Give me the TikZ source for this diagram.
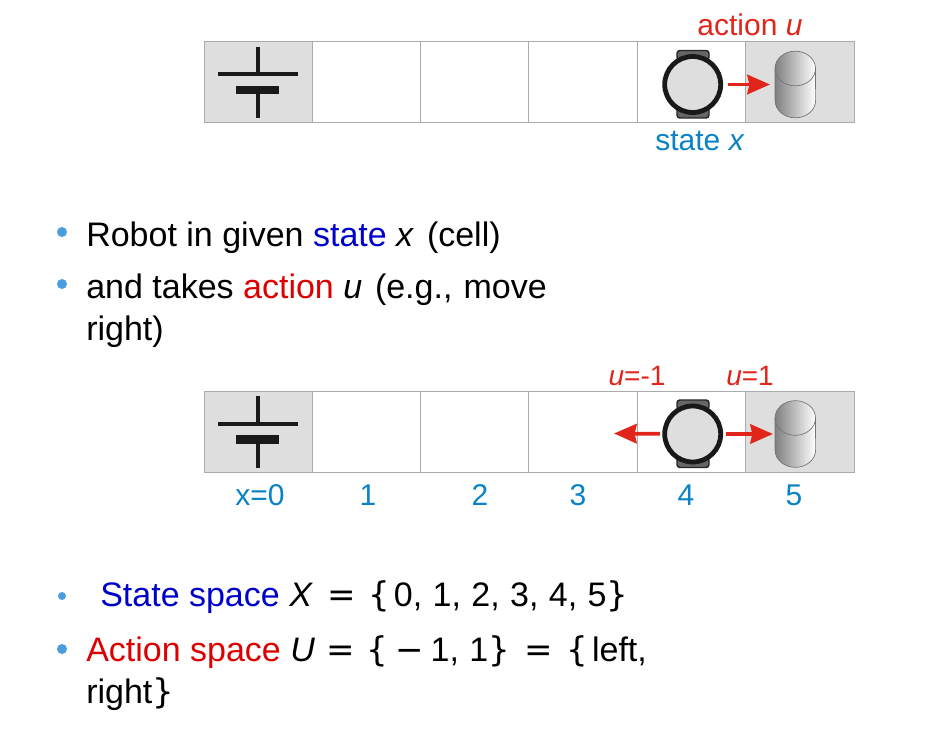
\documentclass[tikz,border=0pt]{standalone}
\usepackage{fontspec}
\setmainfont{Liberation Sans}
\newfontfamily\symfont{DejaVu Sans}
\usetikzlibrary{arrows.meta}
\definecolor{cellgray}{HTML}{DEDEDE}
\definecolor{celledge}{HTML}{ABABAB}
\definecolor{labelblue}{HTML}{0A82C6}
\definecolor{labelred}{HTML}{E1251B}
\definecolor{wordblue}{HTML}{0000CC}
\definecolor{wordred}{HTML}{DC0000}
\definecolor{dotblue}{HTML}{4A9EDD}
\newcommand{\sym}[1]{{\symfont #1}}
\newcommand{\gp}[1]{\hspace{#1pt}}
\tikzset{
	cell/.style={draw=celledge,line width=0.75pt},
	wallbar/.style={line width=3pt,draw=black!90},
	robotbody/.style={circle,draw=black!90,fill=cellgray,line width=3.6pt,minimum size=42pt,inner sep=0pt,outer sep=3.6pt},
	robottab/.style={draw=black!85,fill=black!60,line width=1.1pt,rounded corners=2.2pt},
	canbox/.style={rectangle,minimum width=30.5pt,minimum height=50.5pt,inner sep=0pt,outer sep=1.5pt},
	move/.style={draw=labelred,line width=2.8pt,-{Stealth[length=17pt,width=14.5pt,inset=1.5pt]}},
	lbl/.style={inner sep=0pt,anchor=base,font=\fontsize{22.5}{22.5}\selectfont},
	ulbl/.style={inner sep=0pt,anchor=base,font=\fontsize{21}{21}\selectfont},
	line/.style={inner sep=0pt,anchor=base west,font=\fontsize{25.5}{25.5}\selectfont},
	dot/.style={circle,fill=dotblue,inner sep=0pt,minimum size=#1}
}
\begin{document}
\begin{tikzpicture}[x=0.75pt,y=-0.75pt]
\useasboundingbox (0,0) rectangle (936,734);

% the two strips of cells
\foreach \s/\d in {1/0,2/349.5}
{
	\begin{scope}[shift={(0,\d)}]
	\fill[cellgray] (204,42) rectangle (312,123);
	\fill[cellgray] (745,42) rectangle (854,123);
	\draw[cell] (204,42) rectangle (854,123);
	\foreach \t in {312,420,528,637,745} {
		\draw[cell] (\t,42) -- (\t,123);
	};
	% wall
	\draw[wallbar] (258,47) -- (258,74.5);
	\draw[wallbar] (258,90) -- (258,118);
	\draw[wallbar] (218,74.5) -- (298,74.5);
	\fill[black!90] (236,86) rectangle (279,94);
	% robot
	\draw[robottab] (677,60) -- (677,50.5) -- (709,50.5) -- (709,60) -- cycle;
	\draw[robottab] (677,108) -- (677,118) -- (709,118) -- (709,108) -- cycle;
	\node[robotbody] (robot\s) at (692.7,84.5) {};
	% can
	\node[canbox] (can\s) at (795.3,84.5) {};
	\draw[draw=black!55,line width=0.5pt,left color=black!50,right color=white]
		(775,68.5) arc (180:0:15.2pt and 13pt) -- (815.6,100.5) arc (0:-180:15.2pt and 13pt) -- cycle;
	\draw[draw=black!55,line width=0.5pt] (775,68.5) arc (180:360:15.2pt and 13pt);
	\end{scope}
};

\coordinate (goleft) at (614,433.5);
\draw[move,shorten <=1.5pt,shorten >=2.2pt] (robot1) -- (can1);
\draw[move] (robot2) -- (can2);
\draw[move] (robot2) -- (goleft);

\node[lbl,text=labelred] (actionlbl) at (750,36) {action \textit{u}};
\node[lbl,text=labelblue] (statelbl) at (700,151) {state \textit{x}};
\node[ulbl,text=labelred] (uminus) at (637,386) {\textit{u}=-1};
\node[ulbl,text=labelred] (uplus) at (750,386) {\textit{u}=1};

\foreach \s/\t/\l in {0/260/x=0,1/368/1,2/480/2,3/578/3,4/686/4,5/794/5} {
	\node[lbl,text=labelblue] (num\s) at (\t,505) {\l};
};

\node[dot=7.5pt] (bul1) at (62,232) {};
\node[dot=7.5pt] (bul2) at (62,284) {};
\node[dot=6pt] (bul3) at (62,596) {};
\node[dot=7.5pt] (bul4) at (62,649) {};

\node[line] (txt1) at (86,247) {Robot in given \textcolor{wordblue}{state} \textit{x} \gp{2.5}(cell)};
\node[line] (txt2) at (86,299) {and takes \textcolor{wordred}{action} \textit{u} \gp{2.5}(e.g.,\gp{1.3} move};
\node[line] (txt3) at (86,341) {right)};
\node[line] (txt4) at (100,606) {\textcolor{wordblue}{State space} \textit{X}\gp{10.8}\sym{=}\gp{9.5}\sym{\{}\gp{2.8}0,\gp{7.8}1,\gp{7.8}2,\gp{7.8}3,\gp{7.8}4,\gp{7.8}5\sym{\}}};
\node[line] (txt5) at (86,661) {\textcolor{wordred}{Action space} \textit{U}\gp{8.5}\sym{=}\gp{8.7}\sym{\{}\gp{5.6}\sym{−}\gp{4.9}1,\gp{7.8}1\sym{\}}\gp{10.8}\sym{=}\gp{10.2}\sym{\{}\gp{3}left,};
\node[line] (txt6) at (86,703) {right\sym{\}}};
\end{tikzpicture}
\end{document}
